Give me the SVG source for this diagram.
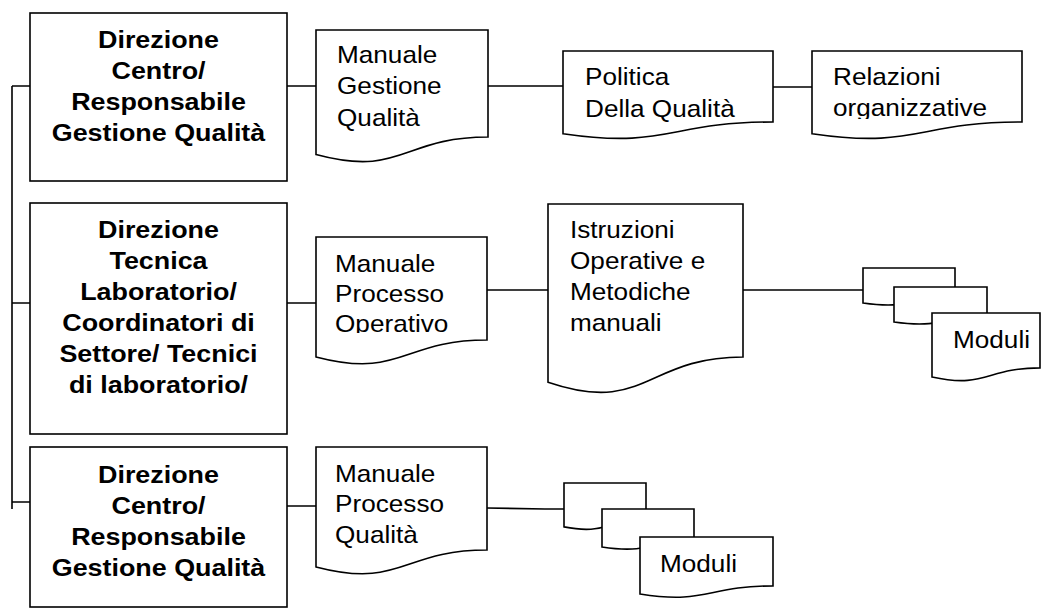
<svg xmlns="http://www.w3.org/2000/svg" width="1042" height="610" viewBox="0 0 1042 610">
<style>
.box{fill:#fff;stroke:#000;stroke-width:1.6}
.doc{fill:#fff;stroke:#000;stroke-width:1.6;stroke-linejoin:miter}
.ln{fill:none;stroke:#000;stroke-width:1.6}
.b{font-family:"Liberation Sans",Arial,sans-serif;font-weight:bold;font-size:24px;fill:#000;text-anchor:middle}
.r{font-family:"Liberation Sans",Arial,sans-serif;font-size:24px;fill:#000}
</style>
<defs>
<clipPath id="cRel"><rect x="812" y="51" width="210" height="68"/></clipPath>
<clipPath id="cMPO"><rect x="316" y="237" width="171" height="96"/></clipPath>
</defs>
<rect width="1042" height="610" fill="#fff"/>
<g id="connectors">
<path class="ln" d="M12,86 V509 M12,86 H30 M12,303 H30 M12,502 H30"/>
<path class="ln" d="M287,86 H316 M488,86 H563 M773,87 H812"/>
<path class="ln" d="M287,303 H316 M487,290 H548 M743,290 H863"/>
<path class="ln" d="M287,506 H316 M487,508 L545,509 H564"/>
</g>
<g id="box1">
<rect class="box" x="30" y="13" width="257" height="168"/>
<text class="b" transform="translate(158.5 48) scale(1.12 1)"><tspan x="0">Direzione</tspan><tspan x="0" dy="31">Centro/</tspan><tspan x="0" dy="31">Responsabile</tspan><tspan x="0" dy="31">Gestione Qualità</tspan></text>
</g>
<g id="box2">
<rect class="box" x="30" y="203" width="257" height="231"/>
<text class="b" transform="translate(158.5 238) scale(1.12 1)"><tspan x="0">Direzione</tspan><tspan x="0" dy="31">Tecnica</tspan><tspan x="0" dy="31">Laboratorio/</tspan><tspan x="0" dy="31">Coordinatori di</tspan><tspan x="0" dy="31">Settore/ Tecnici</tspan><tspan x="0" dy="31">di laboratorio/</tspan></text>
</g>
<g id="box3">
<rect class="box" x="30" y="447" width="257" height="160"/>
<text class="b" transform="translate(158.5 483) scale(1.12 1)"><tspan x="0">Direzione</tspan><tspan x="0" dy="31">Centro/</tspan><tspan x="0" dy="31">Responsabile</tspan><tspan x="0" dy="31">Gestione Qualità</tspan></text>
</g>
<g id="doc-manuale-gestione">
<path class="doc" d="M316,30 H488 V137 C402,137 402,177.7 316,154.6 Z"/>
<text class="r" transform="translate(337 63) scale(1.09 1)"><tspan x="0">Manuale</tspan><tspan x="0" dy="31.5">Gestione</tspan><tspan x="0" dy="31.5">Qualità</tspan></text>
</g>
<g id="doc-politica">
<path class="doc" d="M563,51 H773 V122 C668,122 668,149 563,133.7 Z"/>
<text class="r" transform="translate(585 85) scale(1.09 1)"><tspan x="0">Politica</tspan><tspan x="0" dy="32">Della Qualità</tspan></text>
</g>
<g id="doc-relazioni">
<path class="doc" d="M812,51 H1022 V122 C917,122 917,149 812,133.7 Z"/>
<g clip-path="url(#cRel)"><text class="r" transform="translate(833 85) scale(1.09 1)"><tspan x="0">Relazioni</tspan><tspan x="0" dy="31">organizzative</tspan></text></g>
</g>
<g id="doc-manuale-operativo">
<path class="doc" d="M316,237 H487 V340 C401.5,340 401.5,379.2 316,356.9 Z"/>
<g clip-path="url(#cMPO)"><text class="r" transform="translate(335 272) scale(1.09 1)"><tspan x="0">Manuale</tspan><tspan x="0" dy="30">Processo</tspan><tspan x="0" dy="30">Operativo</tspan></text></g>
</g>
<g id="doc-istruzioni">
<path class="doc" d="M548,204 H743 V357 C645.5,357 645.5,415.3 548,382.2 Z"/>
<text class="r" transform="translate(570 238) scale(1.09 1)"><tspan x="0">Istruzioni</tspan><tspan x="0" dy="31">Operative e</tspan><tspan x="0" dy="31">Metodiche</tspan><tspan x="0" dy="31">manuali</tspan></text>
</g>
<g id="moduli-top">
<path class="doc" d="M863,268 H955 V298.1 C909,298.1 909,309.5 863,303 Z"/>
<path class="doc" d="M894,287 H987 V317.1 C940.5,317.1 940.5,328.5 894,322 Z"/>
<path class="doc" d="M932,313 H1040 V367.9 C986,367.9 986,388.9 932,377 Z"/>
<text class="r" transform="translate(953 348) scale(1.09 1)">Moduli</text>
</g>
<g id="doc-manuale-qualita">
<path class="doc" d="M316,447 H487 V550 C401.5,550 401.5,589.2 316,566.9 Z"/>
<text class="r" transform="translate(335 482) scale(1.09 1)"><tspan x="0">Manuale</tspan><tspan x="0" dy="30.5">Processo</tspan><tspan x="0" dy="30.5">Qualità</tspan></text>
</g>
<g id="moduli-bottom">
<path class="doc" d="M564,483 H646 V520.7 C605,520.7 605,535 564,526.9 Z"/>
<path class="doc" d="M602,509 H694 V541.6 C648,541.6 648,554.1 602,547 Z"/>
<path class="doc" d="M640,537 H773 V585.9 C706.5,585.9 706.5,604.6 640,594 Z"/>
<text class="r" transform="translate(660 572) scale(1.09 1)">Moduli</text>
</g>
</svg>
